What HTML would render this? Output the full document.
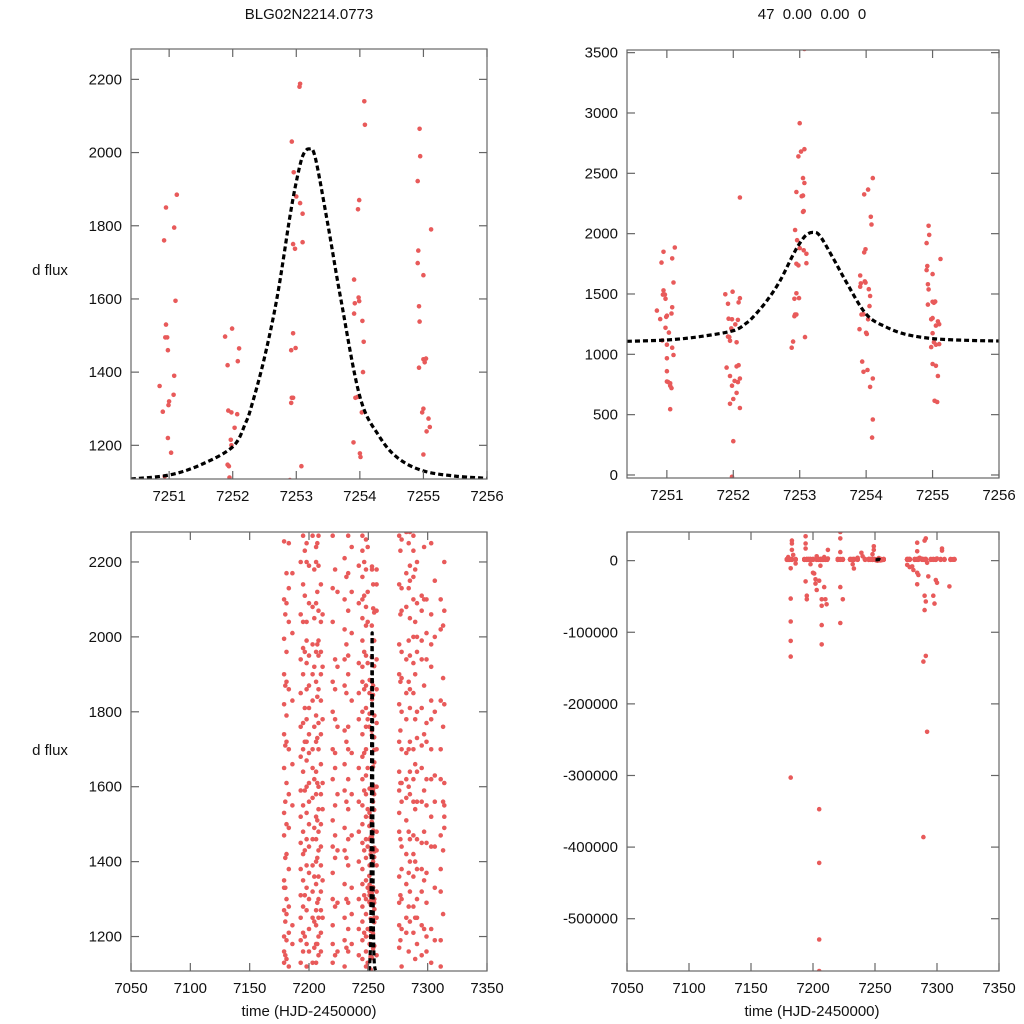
<!DOCTYPE html>
<html><head><meta charset="utf-8"><style>
html,body{margin:0;padding:0;width:1024px;height:1024px;overflow:hidden;background:#fff}
svg{display:block}
text{font-family:"Liberation Sans",sans-serif;font-size:15px;fill:#111}
</style></head><body>
<svg id="chart" width="1024" height="1024" viewBox="0 0 1024 1024" xmlns="http://www.w3.org/2000/svg">
<rect width="1024" height="1024" fill="#fff"/>
<text x="309" y="19" text-anchor="middle">BLG02N2214.0773</text>
<text x="812" y="19" text-anchor="middle" xml:space="preserve">47  0.00  0.00  0</text>
<text x="50" y="275" text-anchor="middle">d flux</text>
<text x="50" y="755" text-anchor="middle">d flux</text>
<text x="309" y="1016" text-anchor="middle">time (HJD-2450000)</text>
<text x="812" y="1016" text-anchor="middle">time (HJD-2450000)</text>
</svg>
<script>
// Zoomed-season data (times, fluxes)
const zoomT = [7250.92,7250.95,7251.08,7251.12,7251.1,7250.95,7250.94,7250.97,7250.98,7251.08,7250.85,7251.07,7251.0,7250.99,7250.9,7250.98,7251.03,7250.93,
7251.88,7251.99,7252.1,7251.92,7252.08,7251.93,7251.98,7252.07,7252.03,7251.97,7251.98,7251.92,7251.94,7251.95,
7253.05,7253.06,7252.93,7252.96,7253.0,7253.06,7253.1,7252.95,7252.98,7253.1,7252.95,7252.92,7252.99,7252.93,7252.95,7252.92,7253.08,
7254.07,7254.08,7253.99,7253.97,7253.91,7253.98,7253.99,7253.92,7253.91,7254.04,7254.06,7254.05,7253.93,7253.96,7254.03,7253.9,7254.0,7254.01,
7254.94,7254.95,7254.91,7254.92,7254.91,7255.0,7254.93,7254.94,7255.0,7255.04,7255.02,7254.93,7255.12,7255.0,7254.98,7255.08,7255.1,7255.05,7255.0,
7253.07,7253.0,7252.98,7253.02,7253.07,7253.05,7253.07,7252.95,7253.03,7253.05,7252.1,7254.1,7254.03,7253.97,
7251.0,7251.1,7251.0,7251.0,7251.02,7251.05,7251.05,7251.07,7251.05,7251.08,7251.0,
7251.9,7252.05,7252.08,7251.95,7252.1,7252.02,7252.07,7251.98,7252.05,7252.0,7251.95,7252.1,7252.0,7251.98,7252.05,
7252.88,7252.9,7253.94,7253.96,7254.02,7254.1,7254.06,7254.1,7254.09,
7254.98,7255.05,7255.1,7255.0,7255.05,7255.08,7255.03,7255.07,7255.02];
const zoomF = [1760,1850,1795,1885,1595,1530,1495,1495,1460,1390,1362,1338,1320,1310,1292,1220,1180,1115,
1497,1519,1465,1419,1430,1295,1290,1285,1248,1215,1200,1147,1143,1112,
2180,2188,2030,1946,1880,1862,1833,1750,1737,1755,1506,1460,1466,1330,1330,1316,1143,
2140,2076,1870,1845,1653,1604,1594,1588,1560,1540,1483,1400,1330,1332,1290,1208,1178,1168,
2065,1990,1922,1732,1698,1665,1580,1538,1435,1437,1427,1412,1790,1300,1290,1273,1250,1238,1175,
3530,2915,2640,2680,2700,2460,2420,2345,2310,2315,2300,2460,2365,2325,
967,994,860,775,770,760,740,720,545,1055,1080,
890,900,910,820,800,780,770,740,680,630,590,555,280,-15,1100,
1055,1105,940,855,870,800,730,460,310,
1060,1080,1085,920,905,820,615,605,1100];
// Full-season columns: observation time and fluxes
const colT = [7179,7181,7183,7186,7193,7195,7198,7200,7203,7206,7208,7210,7220,7222,7230,7233,7236,7242,7245,7248,7257,7276,7278,7282,7285,7288,7291,7295,7299,7303,7306,7311,7314,
7180,7196.5,7204.5,7207,7211.5,7224,7231.5,7246.5,7249.5,7277,7284,7289.5,7297,7313];
const colF = [
[2255,2100,1995,1900,1820,1740,1650,1530,1470,1350,1330,1270,1200,1160,1130],
[2170,2090,1960,1880,1790,1720,1610,1500,1420,1300,1260,1190,1140],
[2250,2130,2040,1860,1700,1580,1490,1380,1280,1210,1120],
[2170,2010,1830,1660,1550,1230,1180],
[2200,2060,1940,1850,1760,1680,1590,1520,1450,1380,1310,1250,1190,1130],
[2270,2140,2040,1970,1900,1770,1700,1640,1550,1480,1420,1350,1280,1210,1160],
[2250,2200,2040,1990,1930,1860,1780,1720,1670,1600,1530,1460,1390,1330,1270,1180,1120],
[2190,2090,1950,1870,1810,1740,1690,1610,1560,1500,1440,1370,1300,1220,1160],
[2270,2080,1980,1900,1830,1700,1650,1570,1460,1390,1320,1250,1130],
[2240,2200,2090,1960,1880,1790,1720,1640,1580,1520,1460,1400,1340,1270,1230,1180,1130],
[2270,2190,2070,1990,1950,1860,1770,1700,1600,1540,1480,1430,1360,1300,1250,1200,1150],
[2140,2040,1960,1900,1830,1740,1660,1580,1500,1440,1390,1320,1270,1210,1160],
[2270,2130,2040,1880,1800,1700,1620,1510,1440,1370,1300,1230,1180,1130],
[2180,1940,1860,1780,1690,1650,1550,1470,1410,1280,1150],
[2210,2100,2020,1940,1870,1750,1660,1590,1490,1430,1340,1250,1190,1120],
[2270,2170,2070,1950,1900,1760,1700,1620,1540,1460,1390,1290,1220,1160],
[2240,2120,2010,1830,1690,1580,1470,1330,1260,1180],
[2190,2090,1930,1850,1780,1650,1560,1480,1400,1300,1220,1150],
[2270,2230,2160,2100,2050,1990,1920,1880,1800,1740,1680,1620,1550,1500,1450,1380,1340,1280,1240,1190,1140],
[2260,2180,2080,2030,1950,1870,1810,1760,1700,1630,1580,1520,1460,1410,1350,1300,1260,1200,1160,1120],
[2180,2140,2070,1940,1860,1770,1700,1600,1480,1430,1390,1320,1250,1150],
[2270,2140,1980,1900,1820,1720,1640,1590,1530,1480,1360,1290,1230,1170],
[2260,2130,2070,1960,1890,1800,1700,1610,1560,1440,1380,1300,1220,1120],
[2280,2170,2080,1940,1850,1780,1690,1620,1570,1510,1420,1340,1250,1210],
[2280,2190,2150,2050,1950,1860,1810,1720,1640,1580,1460,1400,1320,1240],
[2270,2230,2160,2100,2000,1930,1850,1700,1620,1560,1470,1420,1360,1280,1210],
[2200,2090,2000,1960,1800,1730,1640,1560,1460,1380,1300,1250,1180],
[2110,2070,1990,1940,1810,1710,1650,1560,1450,1380,1320,1230,1150],
[2100,2010,1940,1770,1720,1620,1550,1450,1370,1290,1200,1160],
[2250,2060,1980,1920,1830,1780,1700,1620,1520,1440,1220,1130],
[2150,2000,1800,1630,1560,1440,1330,1190],
[2100,2020,1830,1700,1620,1470,1380,1320,1190,1120],
[2200,2070,1820,1610,1550,1520,1490],
[2060,1870,1710,1560,1410,1330,1240,1150],
[2230,2110,1960,1810,1720,1590,1430,1310,1200],
[2180,2050,1920,1760,1620,1490,1360,1240,1170],
[2250,2120,1980,1840,1730,1610,1510,1410,1290,1180],
[2060,1920,1780,1610,1540,1350,1250],
[2120,1920,1760,1580,1430,1290,1160],
[2160,1980,1850,1720,1560,1410,1300,1170],
[2200,2110,1960,1860,1690,1590,1430,1310,1210],
[2240,2120,2040,1930,1780,1650,1540,1440,1330,1220,1130],
[2230,2060,1880,1750,1610,1460,1310,1190],
[2250,2130,1990,1880,1700,1600,1480,1370,1280,1160],
[2180,2040,1900,1780,1660,1540,1400,1250,1140],
[2240,2100,1870,1740,1590,1480,1350,1220],
[2030,1890,1760,1560,1430,1260]];
// Large-deviation points
const outT = [7182,7182,7182,7182,7182,7182,7183,7183,7183,7194,7194,7194,7194,7195,7195,7200,7201,7202,7202,7203,7205,7205,7205,7205,7205,7207,7207,7207,7207,7209,7210,7211,7212,7222,7222,7222,7222,7222,7224,7233,7239,7249,7249,7284,7284,7284,7284,7285,7280,7281,7290,7291,7290,7289,7291,7292,7289,7291,7290,7293,7297,7298,7299,7300,7304,7304,7310,
7180,7184,7186,7198,7203,7206,7209,7212,7232,7236,7240,7248,7276,7278,7286,7292,7300];
const outF = [-134000,-112000,-85000,-53000,-303000,-10700,24000,28000,15000,34000,24000,17000,-29000,-49000,-54000,-17000,-18000,-26000,-32000,-41000,-28000,-347000,-422000,-529000,-573000,-63000,-54000,-90000,-117000,-37000,-54000,-61000,15000,40000,31000,12000,-37000,-87000,-54000,-11000,11000,20000,15000,25000,13000,-17000,-33000,-20000,-8000,-13000,-49000,-57000,-69000,-141000,-133000,-239000,-386000,31000,28000,-22000,-49000,-60000,-27000,-31000,17000,14000,-36000,
5000,8000,-4000,-5000,6000,-7000,5000,3000,-5000,4000,6000,9000,-6000,-9000,4000,-3000,3000];
// Model curve samples
const modelT = [7250.4,7251,7251.5,7252,7252.2,7252.3,7252.5,7252.7,7252.9,7253.0,7253.1,7253.2,7253.3,7253.5,7253.7,7254.0,7254.3,7254.6,7255,7255.5,7256];
const modelF = [1108,1119,1147,1196,1260,1310,1440,1606,1825,1920,1990,2010,1985,1800,1600,1333,1226,1165,1130,1116,1110];
// Tick values
const ticksXZoom = [7251,7252,7253,7254,7255,7256];
const ticksXFull = [7050,7100,7150,7200,7250,7300,7350];
const ticksYTL = [1200,1400,1600,1800,2000,2200];
const ticksYTR = [0,500,1000,1500,2000,2500,3000,3500];
const ticksYBR = [0,-100000,-200000,-300000,-400000,-500000];

const NS='http://www.w3.org/2000/svg';
const svg=document.getElementById('chart');
function mk(tag,attrs,parent){const e=document.createElementNS(NS,tag);for(const k in attrs)e.setAttribute(k,attrs[k]);(parent||svg).appendChild(e);return e;}

let allT=[],allF=[];
zoomT.forEach((t,i)=>{allT.push(t);allF.push(zoomF[i]);});
colT.forEach((t,i)=>colF[i].forEach(f=>{allT.push(t);allF.push(f);}));
outT.forEach((t,i)=>{allT.push(t);allF.push(outF[i]);});

function smoothPath(P){
  let d='M'+P[0][0].toFixed(1)+','+P[0][1].toFixed(1);
  for(let i=0;i<P.length-1;i++){
    const p0=P[Math.max(0,i-1)],p1=P[i],p2=P[i+1],p3=P[Math.min(P.length-1,i+2)];
    const c1=[p1[0]+(p2[0]-p0[0])/6,p1[1]+(p2[1]-p0[1])/6];
    const c2=[p2[0]-(p3[0]-p1[0])/6,p2[1]-(p3[1]-p1[1])/6];
    d+=' C'+c1[0].toFixed(1)+','+c1[1].toFixed(1)+' '+c2[0].toFixed(1)+','+c2[1].toFixed(1)+' '+p2[0].toFixed(1)+','+p2[1].toFixed(1);
  }
  return d;
}

function panel(id,L,R,T,B,x0,x1,y0,y1,xt,yt){
  const sx=v=>L+(v-x0)/(x1-x0)*(R-L);
  const sy=v=>B-(v-y0)/(y1-y0)*(B-T);
  const g=mk('g',{});
  
  
  const cp=mk('clipPath',{id:'c'+id},g);
  mk('rect',{x:L,y:T,width:R-L,height:B-T},cp);
  const pts=mk('g',{'clip-path':'url(#c'+id+')'},g);
  
  
  allT.forEach((t,i)=>{
    mk('circle',{cx:sx(t).toFixed(1),cy:sy(allF[i]).toFixed(1),r:2.3,fill:'#e85a5a'},pts);
  });
  const P=modelT.map((t,i)=>[sx(t),sy(modelF[i])]);
  const ml=mk('path',{d:smoothPath(P),fill:'none',stroke:'#000','stroke-width':3.2,'stroke-dasharray':'5,3'},pts);
  
  
  const fr=mk('rect',{x:L,y:T,width:R-L,height:B-T,fill:'none',stroke:'#666','stroke-width':1.2},g);
  
  
  xt.forEach(v=>{const x=sx(v);
    mk('line',{x1:x,y1:B,x2:x,y2:B-8,stroke:'#666','stroke-width':1.2},g);
    mk('line',{x1:x,y1:T,x2:x,y2:T+8,stroke:'#666','stroke-width':1.2},g);
    const tx=mk('text',{x:x,y:B+22,'text-anchor':'middle'},g);tx.textContent=v;
    
    
  });
  yt.forEach(v=>{const y=sy(v);
    mk('line',{x1:L,y1:y,x2:L+8,y2:y,stroke:'#666','stroke-width':1.2},g);
    mk('line',{x1:R,y1:y,x2:R-8,y2:y,stroke:'#666','stroke-width':1.2},g);
    const tx=mk('text',{x:L-9,y:y+5,'text-anchor':'end'},g);tx.textContent=v;
    
    
  });
}
panel('top-left',131,487,49,479,7250.4,7256,1108,2283,ticksXZoom,ticksYTL);
panel('top-right',627,999,50,478,7250.4,7256,-25,3522,ticksXZoom,ticksYTR);
panel('bottom-left',131,487,532,971,7050,7350,1108,2280,ticksXFull,ticksYTL);
panel('bottom-right',627,999,532,971,7050,7350,-573000,40000,ticksXFull,ticksYBR);
</script>
</body></html>
